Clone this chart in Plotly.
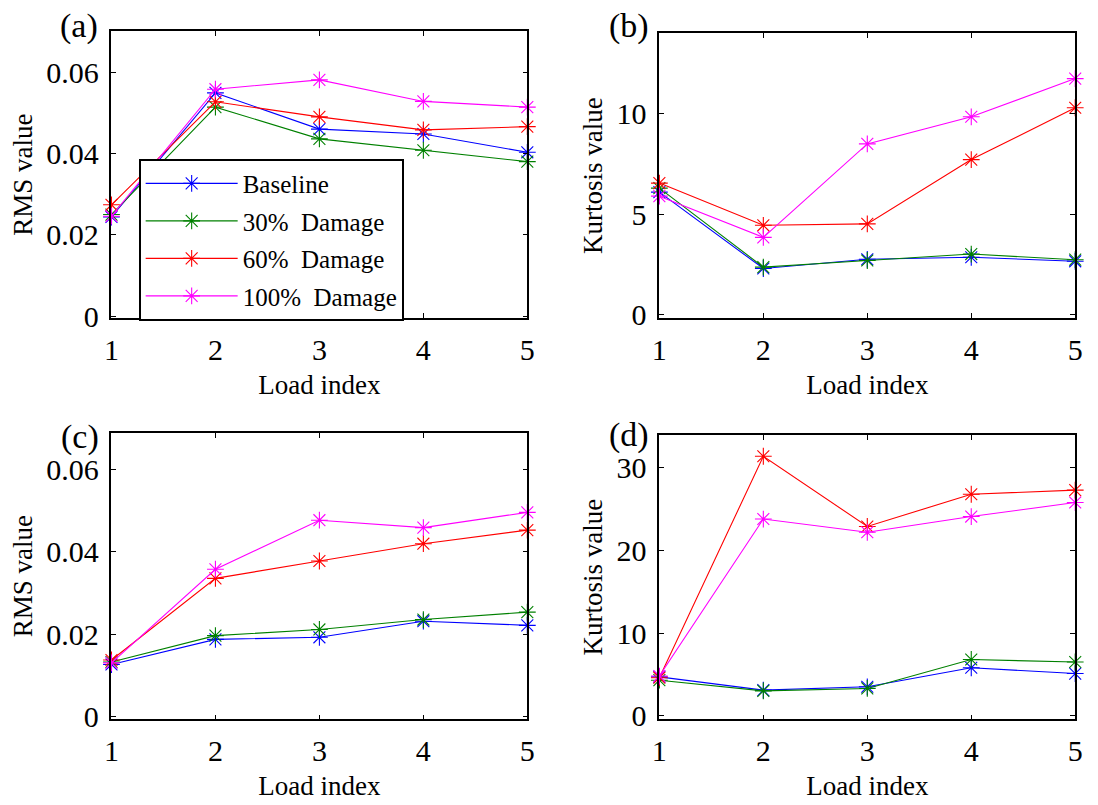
import plotly.graph_objects as go

# Load cases on the horizontal axis
load_index = [1, 2, 3, 4, 5]

series_names = ["Baseline", "30%  Damage", "60%  Damage", "100%  Damage"]
series_colors = ["#0000ff", "#008000", "#ff0000", "#ff00ff"]

# (a) RMS value
rms_a_baseline = [0.0244, 0.0549, 0.0460, 0.0448, 0.0403]
rms_a_dmg30 = [0.0250, 0.0514, 0.0436, 0.0408, 0.0380]
rms_a_dmg60 = [0.0274, 0.0527, 0.0490, 0.0458, 0.0466]
rms_a_dmg100 = [0.0246, 0.0558, 0.0581, 0.0528, 0.0514]

# (b) Kurtosis value
kurt_b_baseline = [6.10, 2.30, 2.76, 2.86, 2.66]
kurt_b_dmg30 = [6.30, 2.37, 2.70, 3.02, 2.74]
kurt_b_dmg60 = [6.55, 4.45, 4.52, 7.72, 10.30]
kurt_b_dmg100 = [5.90, 3.85, 8.50, 9.85, 11.75]

# (c) RMS value
rms_c_baseline = [0.0127, 0.0188, 0.0193, 0.0232, 0.0222]
rms_c_dmg30 = [0.0133, 0.0197, 0.0212, 0.0236, 0.0254]
rms_c_dmg60 = [0.0138, 0.0336, 0.0378, 0.0420, 0.0453]
rms_c_dmg100 = [0.0131, 0.0358, 0.0477, 0.0459, 0.0496]

# (d) Kurtosis value
kurt_d_baseline = [4.7, 3.1, 3.5, 5.8, 5.1]
kurt_d_dmg30 = [4.3, 3.0, 3.3, 6.8, 6.5]
kurt_d_dmg60 = [4.6, 31.4, 22.9, 26.8, 27.3]
kurt_d_dmg100 = [4.8, 23.8, 22.2, 24.1, 25.8]

rms_ticks = [0, 0.02, 0.04, 0.06]
rms_ticktext = ["0", "0.02", "0.04", "0.06"]
kurt_b_ticks = [0, 5, 10]
kurt_d_ticks = [0, 10, 20, 30]
x_ticks = [1, 2, 3, 4, 5]

panel_labels = ["(a)", "(b)", "(c)", "(d)"]
x_title = "Load index"
y_titles = ["RMS value", "Kurtosis value", "RMS value", "Kurtosis value"]

panels = [
    [rms_a_baseline, rms_a_dmg30, rms_a_dmg60, rms_a_dmg100],
    [kurt_b_baseline, kurt_b_dmg30, kurt_b_dmg60, kurt_b_dmg100],
    [rms_c_baseline, rms_c_dmg30, rms_c_dmg60, rms_c_dmg100],
    [kurt_d_baseline, kurt_d_dmg30, kurt_d_dmg60, kurt_d_dmg100],
]

W, H = 1098, 805
FONT = "Liberation Serif, Times New Roman, serif"

# Plot boxes in pixels: (left, right, top, bottom)
boxes = [
    (105, 527, 32, 324),
    (661, 1083, 34, 324),
    (105, 527, 441, 733),
    (661, 1083, 443, 733),
]
y_ranges = [[-0.0004, 0.0700], [-0.16, 14.0], [-0.0006, 0.0689], [-0.44, 34.0]]
y_tickvals = [rms_ticks, kurt_b_ticks, rms_ticks, kurt_d_ticks]
y_ticktexts = [rms_ticktext, [str(v) for v in kurt_b_ticks], rms_ticktext,
               [str(v) for v in kurt_d_ticks]]
label_pos = [(72, 27), (630, 27), (73, 445), (630, 443)]

fig = go.Figure()

for p, data in enumerate(panels):
    ax = "" if p == 0 else str(p + 1)
    for s, values in enumerate(data):
        fig.add_trace(go.Scatter(
            x=load_index, y=values,
            mode="lines+markers",
            name=series_names[s],
            legendgroup=series_names[s],
            showlegend=(p == 0),
            line=dict(color=series_colors[s], width=1.1),
            marker=dict(symbol="asterisk-open", size=14,
                        line=dict(color=series_colors[s], width=1.1)),
            xaxis="x" + ax, yaxis="y" + ax,
            cliponaxis=False,
        ))

    l, r, t, b = boxes[p]
    axis_common = dict(
        showline=True, linecolor="black", linewidth=1.6, mirror="allticks",
        ticks="inside", ticklen=5, tickwidth=1.3, tickcolor="black",
        showgrid=False, zeroline=False,
        tickfont=dict(family=FONT, size=30, color="black"),
    )
    fig.layout["xaxis" + ax] = dict(
        domain=[l / W, r / W], anchor="y" + ax,
        range=[1, 5], tickvals=x_ticks, ticklabelstandoff=4,
        title=dict(text=x_title, font=dict(family=FONT, size=27, color="black"),
                   standoff=10),
        **axis_common,
    )
    fig.layout["yaxis" + ax] = dict(
        domain=[1 - b / H, 1 - t / H], anchor="x" + ax,
        range=y_ranges[p], tickvals=y_tickvals[p], ticktext=y_ticktexts[p],
        ticklabelstandoff=5,
        title=dict(text=y_titles[p], font=dict(family=FONT, size=27, color="black"),
                   standoff=6),
        **axis_common,
    )
    lx, ly = label_pos[p]
    fig.add_annotation(
        text=panel_labels[p], xref="paper", yref="paper",
        x=lx / W, y=1 - ly / H, xanchor="center", yanchor="middle",
        showarrow=False, font=dict(family=FONT, size=34, color="black"),
    )

fig.update_layout(
    width=W, height=H,
    margin=dict(l=0, r=0, t=0, b=0),
    paper_bgcolor="white", plot_bgcolor="white",
    showlegend=True,
    legend=dict(
        x=133 / W, y=1 - 162 / H, xanchor="left", yanchor="top",
        bgcolor="white", bordercolor="black", borderwidth=1.6,
        font=dict(family=FONT, size=25, color="black"),
        traceorder="grouped", tracegroupgap=2, itemwidth=92,
    ),
)

fig.write_html("out.html")
